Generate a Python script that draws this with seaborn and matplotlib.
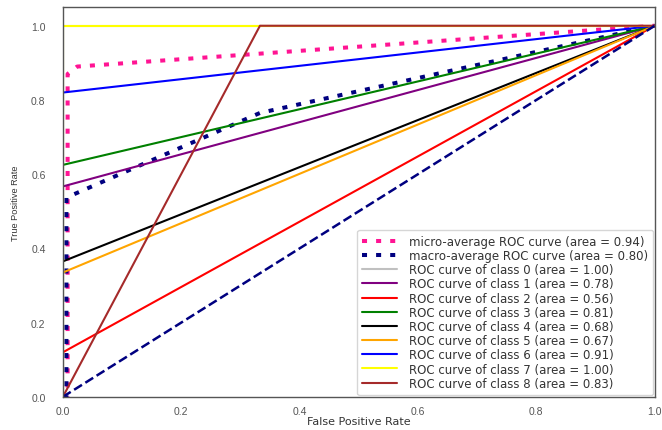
import numpy as np
import matplotlib
matplotlib.use("Agg")
import matplotlib.pyplot as plt
import seaborn as sns

# ROC curve data
micro_fpr = [0.0, 0.008, 0.008, 0.024, 1.0]
micro_tpr = [0.0, 0.0, 0.87, 0.89, 1.0]
micro_auc = 0.94

macro_fpr = [0.0, 0.006, 0.006, 0.333, 1.0]
macro_tpr = [0.0, 0.0, 0.537, 0.765, 1.0]
macro_auc = 0.80

class_fpr = [
    [0.0, 0.0, 1.0],
    [0.0, 0.0, 1.0],
    [0.0, 0.0, 1.0],
    [0.0, 0.0, 1.0],
    [0.0, 0.0, 1.0],
    [0.0, 0.0, 1.0],
    [0.0, 0.0, 1.0],
    [0.0, 0.0, 1.0],
    [0.0, 0.333, 1.0],
]
class_tpr = [
    [0.0, 1.0, 1.0],
    [0.0, 0.567, 1.0],
    [0.0, 0.12, 1.0],
    [0.0, 0.625, 1.0],
    [0.0, 0.365, 1.0],
    [0.0, 0.335, 1.0],
    [0.0, 0.82, 1.0],
    [0.0, 1.0, 1.0],
    [0.0, 1.0, 1.0],
]
class_auc = [1.00, 0.78, 0.56, 0.81, 0.68, 0.67, 0.91, 1.00, 0.83]
class_colors = ["silver", "purple", "red", "green", "black", "orange", "blue", "yellow", "brown"]

sns.set_style("white")
plt.rcParams["font.family"] = ["Liberation Sans", "DejaVu Sans"]

fig = plt.figure(figsize=(6.62, 4.31), dpi=100)
ax = fig.add_axes([0.095, 0.077, 0.894, 0.904])

dots = (0, (1.25, 2.25))
sns.lineplot(x=micro_fpr, y=micro_tpr, ax=ax, color="deeppink", linestyle=dots, linewidth=2.9,
             label="micro-average ROC curve (area = {0:0.2f})".format(micro_auc), sort=False, estimator=None)
sns.lineplot(x=macro_fpr, y=macro_tpr, ax=ax, color="navy", linestyle=dots, linewidth=2.9,
             label="macro-average ROC curve (area = {0:0.2f})".format(macro_auc), sort=False, estimator=None)
for i, (f, t, a, c) in enumerate(zip(class_fpr, class_tpr, class_auc, class_colors)):
    sns.lineplot(x=f, y=t, ax=ax, color=c, linewidth=1.5, sort=False, estimator=None,
                 label="ROC curve of class {0} (area = {1:0.2f})".format(i, a))

ax.plot([0, 1], [0, 1], color="navy", linestyle="--", linewidth=1.8)
ax.set_xlim(0.0, 1.0)
ax.set_ylim(0.0, 1.05)
ax.set_xlabel("False Positive Rate", fontsize=8, labelpad=0, color="#333333",
              family=["DejaVu Sans"])
ax.set_ylabel("True Positive Rate", fontsize=6.6, labelpad=8, color="#333333")
ax.tick_params(axis="both", labelsize=7.5, colors="#555555")
ax.tick_params(axis="y", pad=9)
ax.tick_params(axis="x", pad=3)
for s in ax.spines.values():
    s.set_color("#555555")
    s.set_linewidth(1.0)
leg = ax.legend(loc="lower right", frameon=True, handlelength=2.9, handletextpad=1.0,
                labelspacing=0.1, borderpad=0.45, borderaxespad=0.15,
                prop={"family": "DejaVu Sans", "size": 8.5})
for t in leg.get_texts():
    t.set_color("#333333")
plt.savefig("out.png", dpi=100)
